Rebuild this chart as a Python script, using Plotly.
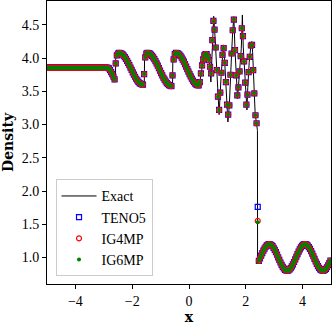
import numpy as np
import plotly.graph_objects as go

# ---------------- data ----------------
# cell centres of the numerical solutions
x_cells = np.round(-4.98 + 0.04 * np.arange(250), 2)

rho_left = [3.857, 3.857, 3.857, 3.857, 3.857, 3.857, 3.857, 3.857, 3.857, 3.857,
            3.857, 3.857, 3.857, 3.857, 3.857, 3.857, 3.857, 3.857, 3.857, 3.857,
            3.857, 3.857, 3.857, 3.857, 3.857, 3.857, 3.857, 3.857, 3.857, 3.857,
            3.857, 3.857, 3.857, 3.857, 3.857, 3.857, 3.857, 3.857, 3.857, 3.857,
            3.857, 3.857, 3.857, 3.857, 3.857, 3.857, 3.857, 3.857, 3.857, 3.857,
            3.857, 3.857, 3.857]
rho_dip = [3.855, 3.845, 3.82, 3.79, 3.76, 3.72, 3.68]
rho_wave1 = [3.92, 4.04, 4.07, 4.08,
             4.077, 4.069, 4.056, 4.038, 4.016, 3.990, 3.960, 3.928, 3.894, 3.858,
             3.822, 3.786, 3.752, 3.720, 3.690, 3.664, 3.642, 3.624, 3.611, 3.603, 3.600]
rho_wave2 = [3.76, 4.01, 4.07, 4.08,
             4.077, 4.068, 4.054, 4.035, 4.012, 3.985, 3.955, 3.921, 3.886, 3.849,
             3.811, 3.775, 3.740, 3.705, 3.675, 3.648, 3.625, 3.607, 3.594, 3.585, 3.580]
rho_wave3 = [3.74, 3.98, 4.06, 4.08,
             4.077, 4.068, 4.053, 4.033, 4.008, 3.979, 3.946, 3.911, 3.873, 3.835,
             3.797, 3.759, 3.724, 3.691, 3.662, 3.637, 3.617, 3.602, 3.593, 3.590]
rho_entropy = [3.64, 3.77, 3.89, 3.98, 4.04, 4.06, 4.06, 4.02, 3.97, 3.87,
               3.77, 4.27, 4.56, 4.43, 4.16, 3.82, 3.42, 3.22, 3.48, 3.78,
               4.05, 4.15, 3.93, 3.64, 3.30, 3.15, 3.29, 3.75, 4.07, 4.42,
               4.58, 4.12, 3.74, 3.44, 3.56, 3.80, 4.03, 4.45, 4.33, 3.95,
               3.63, 3.30, 3.45, 3.79, 4.02, 4.19, 4.20, 3.82, 3.47, 3.14,
               3.02]
rho_shock_teno5 = [1.76]
rho_shock_ig4mp = [1.55]
rho_shock_ig6mp = [1.53]
rho_right = [0.947, 0.987, 1.027, 1.066, 1.102, 1.134, 1.161, 1.181, 1.194, 1.200,
             1.197, 1.187, 1.169, 1.145, 1.114, 1.080, 1.041, 1.002, 0.962, 0.924,
             0.888, 0.858, 0.833, 0.814, 0.803, 0.800, 0.805, 0.818, 0.838, 0.864,
             0.896, 0.931, 0.970, 1.010, 1.050, 1.087, 1.121, 1.151, 1.174, 1.190,
             1.199, 1.200, 1.192, 1.177, 1.155, 1.128, 1.094, 1.057, 1.018, 0.978,
             0.939, 0.903, 0.870, 0.842, 0.821, 0.807, 0.800, 0.802, 0.811, 0.828,
             0.852, 0.882, 0.916, 0.954]

rho_common_left = rho_left + rho_dip + rho_wave1 + rho_wave2 + rho_wave3 + rho_entropy
teno5 = rho_common_left + rho_shock_teno5 + rho_right
ig4mp = rho_common_left + rho_shock_ig4mp + rho_right
ig6mp = rho_common_left + rho_shock_ig6mp + rho_right

# reference ("Exact") solution
x_exact = [-5.0, -2.86, -2.78, -2.70, -2.62, -2.59, -2.58, -2.54, -2.48, -2.30, -2.10,
           -1.90, -1.74, -1.60, -1.575, -1.565, -1.52, -1.46, -1.26, -1.06, -0.86,
           -0.70, -0.58, -0.57, -0.52, -0.46, -0.26, -0.06, 0.14, 0.26, 0.34,
           0.38, 0.42, 0.47, 0.52, 0.57, 0.63, 0.70, 0.74, 0.77, 0.82, 0.87, 0.92,
           0.97, 1.00, 1.03, 1.06, 1.13, 1.21, 1.25, 1.29, 1.33, 1.37, 1.42, 1.45,
           1.50, 1.54, 1.58, 1.62, 1.66, 1.69, 1.71, 1.77, 1.84, 1.87, 1.88, 1.91,
           1.97, 2.01, 2.04, 2.07, 2.12, 2.18, 2.21, 2.24, 2.26, 2.30, 2.33, 2.37,
           2.41, 2.415, 2.5, 2.6, 2.7, 2.8, 2.9, 3.0, 3.1, 3.2, 3.3, 3.4, 3.5, 3.6,
           3.7, 3.8, 3.9, 4.0, 4.1, 4.2, 4.3, 4.4, 4.5, 4.6, 4.7, 4.8, 4.9, 5.0]
rho_exact = [3.857, 3.857, 3.82, 3.76, 3.68, 3.66, 4.00, 4.06, 4.08, 4.04, 3.89,
             3.72, 3.62, 3.60, 3.60, 4.00, 4.06, 4.08, 4.01, 3.85, 3.675,
             3.594, 3.58, 3.95, 4.05, 4.08, 4.008, 3.835, 3.662, 3.602, 3.59,
             3.64, 3.77, 3.92, 4.02, 4.06, 4.06, 3.97, 3.87, 3.64, 4.27, 4.63, 4.30,
             3.94, 3.59, 3.34, 3.15, 3.72, 4.20, 4.00, 3.72, 3.39, 3.04, 3.29, 3.67,
             4.07, 4.42, 4.62, 4.12, 3.74, 3.49, 3.39, 3.74, 4.14, 4.51, 4.65, 4.17,
             3.72, 3.36, 3.22, 3.56, 3.94, 4.19, 4.25, 4.09, 3.82, 3.47, 3.16, 3.04,
             2.91, 0.906, 0.987, 1.084, 1.161, 1.198, 1.187, 1.130, 1.041, 0.942, 0.858, 0.808, 0.805, 0.850,
             0.931, 1.030, 1.121, 1.183, 1.199, 1.167, 1.094, 0.998, 0.903, 0.831, 0.800, 0.819, 0.882, 0.974]

x_ticks = [-4, -2, 0, 2, 4]
y_ticks = [1.0, 1.5, 2.0, 2.5, 3.0, 3.5, 4.0, 4.5]
y_tick_labels = ["1.0", "1.5", "2.0", "2.5", "3.0", "3.5", "4.0", "4.5"]

# ---------------- figure ----------------
FONT = "Liberation Serif"
TITLE_FONT = "DejaVu Serif"

fig = go.Figure()
fig.add_trace(go.Scatter(x=x_exact, y=rho_exact, mode="lines", name="Exact",
                         line=dict(color="black", width=1)))
fig.add_trace(go.Scatter(x=x_cells, y=teno5, mode="markers", name="TENO5",
                         marker=dict(symbol="square-open", size=5, color="#0000ff",
                                     line=dict(width=1.2))))
fig.add_trace(go.Scatter(x=x_cells, y=ig4mp, mode="markers", name="IG4MP",
                         marker=dict(symbol="circle-open", size=5, color="#ff0000",
                                     line=dict(width=1.2))))
fig.add_trace(go.Scatter(x=x_cells, y=ig6mp, mode="markers", name="IG6MP",
                         marker=dict(symbol="circle", size=4, color="#008000")))

axis_common = dict(showline=True, linecolor="black", linewidth=1, mirror=True,
                   ticks="outside", ticklen=4, tickwidth=1, tickcolor="black",
                   showgrid=False, zeroline=False,
                   tickfont=dict(family=FONT, size=14, color="black"))

fig.update_xaxes(range=[-5, 5], tickvals=x_ticks,
                 title=dict(text="<b>x</b>", font=dict(family=TITLE_FONT, size=14, color="black"),
                            standoff=4),
                 **axis_common)
fig.update_yaxes(range=[0.6, 4.86], tickvals=y_ticks, ticktext=y_tick_labels,
                 title=dict(text="<b>Density</b>", font=dict(family=TITLE_FONT, size=14, color="black"),
                            standoff=6),
                 **axis_common)

fig.update_layout(
    width=332, height=325,
    margin=dict(l=47, r=1, t=1, b=41, autoexpand=False),
    paper_bgcolor="white", plot_bgcolor="white",
    showlegend=True,
    legend=dict(x=0.03, y=0.027, xanchor="left", yanchor="bottom",
                bgcolor="rgba(255,255,255,0.8)", bordercolor="#cccccc", borderwidth=1,
                font=dict(family=FONT, size=14, color="black"),
                itemwidth=35, tracegroupgap=0),
)

fig.write_html("out.html",
               config={"displayModeBar": False},
               post_script="document.body.style.margin='0px';document.body.style.overflow='hidden';")
